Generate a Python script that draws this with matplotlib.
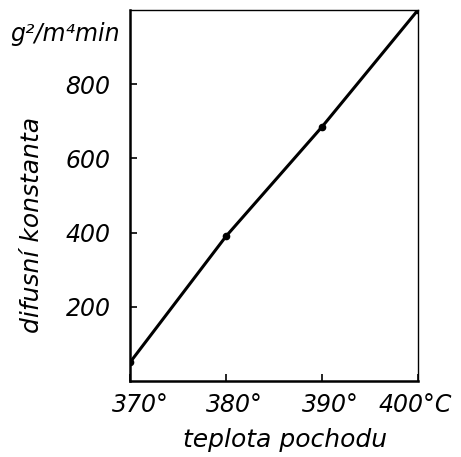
import matplotlib.pyplot as plt
import matplotlib.transforms as mtransforms

# data
teplota = [370, 380, 390, 400]          # teplota pochodu, °C
konstanta = [50, 390, 685, 1000]        # difusni konstanta, g²/m⁴min

x_ticks = [370, 380, 390, 400]
x_labels = ["370°", "380°", "390°", "400°C"]
y_ticks = [200, 400, 600, 800]

plt.rcParams['font.family'] = ['DejaVu Sans']

fig = plt.figure(figsize=(4.61, 4.57), dpi=100)
ax = fig.add_axes([130 / 461, 76 / 457, 288 / 461, 371 / 457])

ax.plot(teplota, konstanta, color="black", lw=2.2,
        marker="o", ms=4.5, mfc="black", mec="black")

ax.set_xlim(370, 400)
ax.set_ylim(0, 1000)

ax.set_xticks(x_ticks)
ax.set_xticklabels(x_labels, fontsize=17, style="italic")
ax.set_yticks(y_ticks)
ax.set_yticklabels([str(v) for v in y_ticks], fontsize=17, style="italic")
ax.tick_params(direction="in", length=5, width=1.2, pad=14)
ax.tick_params(axis="x", pad=9)

# hand lettering sits a bit right of the ticks (last one kept inside the image)
for lbl, dx in zip(ax.get_xticklabels(), [10, 8, 8, -3]):
    shift = mtransforms.ScaledTranslation(dx / 100, 0, fig.dpi_scale_trans)
    lbl.set_transform(lbl.get_transform() + shift)

for side in ["left", "bottom"]:
    ax.spines[side].set_linewidth(1.8)
for side in ["top", "right"]:
    ax.spines[side].set_linewidth(1.0)

# unit label above the axis
ax.text(-0.035, 0.935, "g²/m⁴min", transform=ax.transAxes,
        ha="right", va="center", fontsize=17, style="italic")

ax.text(-0.34, 0.42, "difusní konstanta", transform=ax.transAxes,
        rotation=90, ha="center", va="center", fontsize=18, style="italic")
ax.text(0.54, -0.16, "teplota pochodu", transform=ax.transAxes,
        ha="center", va="center", fontsize=18, style="italic")

plt.savefig("out.png", dpi=100)
